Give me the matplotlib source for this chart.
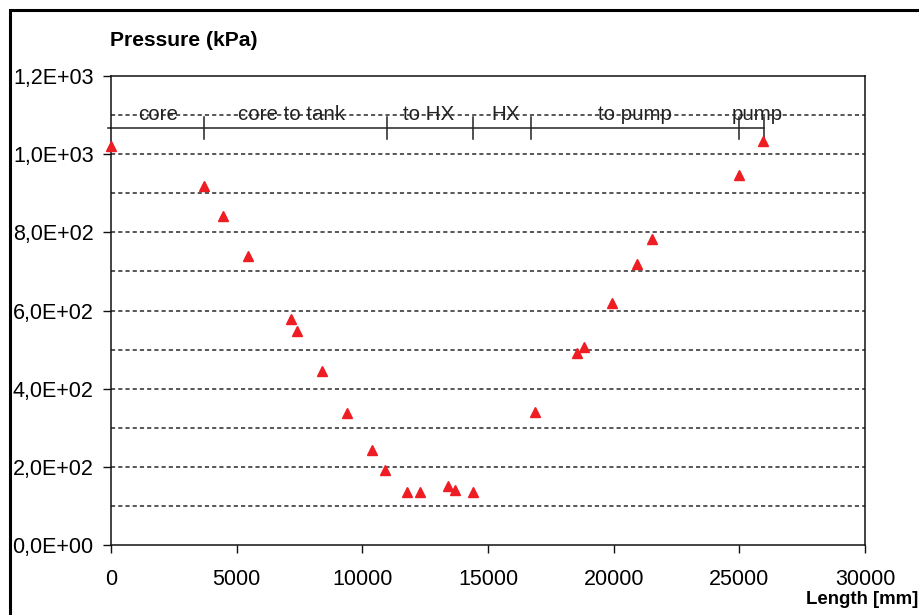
import matplotlib
matplotlib.use("Agg")
import matplotlib.pyplot as plt
from matplotlib.patches import Rectangle
from matplotlib.ticker import FixedLocator

# ---- data ----
length_mm = [0, 3700, 4440, 5460, 7150, 7390, 8395, 9400, 10385, 10900,
             11765, 12295, 13410, 13700, 14390, 16870, 18555, 18835,
             19950, 20920, 21530, 24975, 25950]
pressure_kpa = [1020, 919, 841, 740, 579, 547, 444, 338, 244, 191,
                136, 136, 151, 140, 136, 340, 491, 506,
                619, 719, 784, 946, 1034]

segment_bounds = [3700, 10970, 14390, 16700, 24975, 26000]
segment_names = ["core", "core to tank", "to HX", "HX", "to pump", "pump"]
segment_label_x = [1880, 7200, 12620, 15680, 20850, 25700]

x_ticks = [0, 5000, 10000, 15000, 20000, 25000, 30000]
y_ticks = [0, 200, 400, 600, 800, 1000, 1200]
y_tick_labels = ["0,0E+00", "2,0E+02", "4,0E+02", "6,0E+02", "8,0E+02", "1,0E+03", "1,2E+03"]
grid_levels = [100, 200, 300, 400, 500, 600, 700, 800, 900, 1000, 1100]

plt.rcParams['font.family'] = ['Liberation Sans', 'DejaVu Sans']
plt.rcParams['lines.scale_dashes'] = False

W, H = 920, 615
fig = plt.figure(figsize=(W / 100, H / 100), dpi=100)
ax = fig.add_axes([111 / W, 1 - 545 / H, (865 - 111) / W, (545 - 76) / H])

ax.set_xlim(0, 30000)
ax.set_ylim(0, 1200)

# dashed grid lines
ax.hlines(grid_levels, 0, 30000, colors='#2a2a2a', linewidth=1.1,
          linestyles=(0, (3.0, 2.2)), zorder=1)

# segment annotation line
seg_y = 1068
ax.plot([-120, segment_bounds[-1]], [seg_y, seg_y], color='#222222', lw=1.1,
        clip_on=False, zorder=2)
for b in segment_bounds:
    ax.plot([b, b], [seg_y - 28, seg_y + 27], color='#222222', lw=1.1, zorder=2)
for name, lx in zip(segment_names, segment_label_x):
    ax.text(lx, 1102, name, ha='center', va='center', fontsize=14.8,
            color='#222222', zorder=3)

# data points
ax.plot(length_mm, pressure_kpa, linestyle='none', marker='^', markersize=7.6,
        color='#ee1d23', markeredgecolor='#ee1d23', zorder=4, clip_on=False)

# axes styling
for s in ax.spines.values():
    s.set_color('#111111')
    s.set_linewidth(1.1)

ax.xaxis.set_major_locator(FixedLocator(x_ticks))
ax.yaxis.set_major_locator(FixedLocator(y_ticks))
ax.set_yticklabels(y_tick_labels)
ax.tick_params(axis='both', direction='out', length=5.5, width=1.0,
               color='#111111', labelsize=15.5, labelcolor='black')
ax.tick_params(axis='y', pad=7)
ax.tick_params(axis='x', pad=11.5)

# titles
fig.text(110 / W, 1 - 40 / H, "Pressure (kPa)", ha='left', va='center',
         fontsize=15.2, fontweight='bold')
fig.text(918 / W, 1 - 600 / H, "Length [mm]", ha='right', va='center',
         fontsize=13.4, fontweight='bold')

# figure border
fig.patches.append(Rectangle((10 / W, -0.1), 1.2, 1 - 10 / H + 0.1,
                             transform=fig.transFigure, fill=False,
                             edgecolor='black', linewidth=2.2, clip_on=False))

fig.savefig("out.png", dpi=100)
